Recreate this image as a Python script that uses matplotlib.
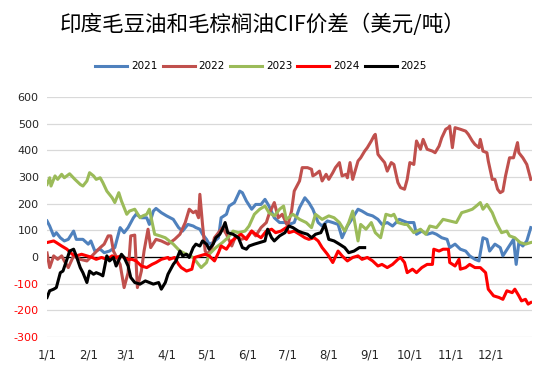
import matplotlib
matplotlib.use("Agg")
import matplotlib.pyplot as plt

# ---------------- data (day of year, USD/t) ----------------
d2021 = [0, 2, 5, 7, 10, 13, 16, 20, 22, 27, 31, 33, 36, 40, 43, 47, 51, 55, 58, 61, 65, 67, 71, 75, 77, 80, 82, 86,
         90, 95, 99, 102, 106, 110, 112, 115, 117, 120, 122, 125, 129, 131, 135, 137, 141, 145, 147, 150, 154, 157, 161,
         164, 167, 171, 175, 179, 182, 186, 190, 194, 197, 200, 204, 207, 211, 215, 219, 222, 226, 230, 234, 237, 241,
         245, 249, 252, 256, 260, 265, 271, 276, 278, 282, 286, 290, 293, 297, 301, 303, 307, 311, 315, 318, 322, 325,
         328, 331, 333, 337, 341, 343, 347, 351, 353, 355, 358, 361, 364]
v2021 = [135, 116, 79, 91, 72, 60, 66, 97, 66, 66, 48, 60, 22, 29, 16, 22, 35, 110, 91, 110, 147, 160, 147, 147, 122, 172,
         182, 166, 154, 141, 110, 97, 122, 116, 110, 104, 85, 66, 48, 54, 72, 147, 160, 191, 204, 247, 241, 210, 179, 197,
         197, 216, 191, 147, 129, 129, 122, 129, 185, 222, 204, 179, 129, 116, 135, 129, 122, 72, 116, 147, 179, 172, 160,
         154, 141, 122, 129, 116, 141, 129, 129, 85, 97, 85, 91, 85, 72, 66, 35, 48, 29, 22, 4, -9, -15, 72, 66, 22, 48,
         35, 4, 35, 66, -28, 54, 41, 60, 110]

d2022 = [0, 2, 5, 8, 11, 13, 16, 20, 25, 30, 35, 40, 43, 46, 48, 50, 55, 58, 61, 63, 66, 68, 71, 73, 76, 78, 82, 86, 91,
         96, 100, 104, 107, 110, 112, 114, 115, 117, 119, 121, 124, 126, 130, 132, 135, 139, 142, 146, 150, 154, 157, 161,
         165, 167, 171, 174, 177, 181, 184, 186, 190, 192, 196, 199, 200, 202, 205, 207, 210, 212, 215, 217, 220, 222,
         225, 226, 228, 230, 234, 236, 239, 241, 244, 246, 247, 249, 251, 254, 256, 259, 261, 264, 266, 269, 271, 273,
         276, 278, 281, 283, 286, 290, 292, 295, 297, 300, 302, 303, 305, 307, 311, 315, 317, 320, 322, 325, 326, 328,
         331, 332, 335, 337, 339, 341, 343, 345, 348, 351, 354, 355, 358, 361, 364]
v2022 = [15, -40, 4, -9, 4, -15, -40, 4, -9, -15, 10, 35, 48, 79, 79, 22, -28, -115, -59, 79, 82, -115, -53, 22, 104, 35,
         66, 60, 48, 66, 85, 129, 179, 166, 172, 147, 235, 122, 22, 10, 35, 72, 97, 110, 85, 41, 79, 66, 72, 97, 79, 110,
         129, 160, 204, 147, 160, 116, 172, 247, 285, 335, 335, 329, 304, 310, 322, 285, 310, 291, 316, 335, 354, 304,
         310, 297, 354, 291, 360, 372, 397, 410, 435, 454, 460, 385, 372, 354, 322, 354, 347, 279, 260, 254, 291, 354,
         347, 435, 404, 441, 404, 397, 391, 416, 447, 479, 485, 491, 410, 485, 479, 472, 460, 435, 422, 410, 441, 397,
         391, 360, 291, 291, 254, 241, 247, 304, 372, 372, 429, 391, 372, 347, 291]

d2023 = [0, 2, 3, 6, 8, 11, 13, 17, 21, 25, 27, 30, 32, 35, 37, 40, 42, 45, 49, 51, 54, 56, 60, 62, 66, 70, 72, 75, 77,
         81, 85, 89, 95, 100, 105, 110, 114, 116, 120, 122, 127, 132, 136, 140, 144, 149, 152, 156, 160, 164, 167, 171,
         175, 178, 180, 185, 190, 195, 199, 202, 207, 212, 216, 220, 224, 227, 230, 234, 236, 240, 244, 247, 251, 255,
         259, 261, 264, 269, 271, 276, 281, 285, 288, 293, 298, 303, 308, 312, 316, 320, 323, 326, 328, 331, 335, 338,
         342, 346, 348, 352, 356, 360, 364]
v2023 = [272, 297, 266, 304, 291, 310, 297, 312, 291, 272, 266, 285, 316, 304, 291, 297, 279, 247, 222, 204, 241, 210,
         160, 172, 179, 147, 154, 160, 179, 85, 79, 72, 48, 22, 10, -2, -28, -40, -21, 10, 35, 54, 72, 97, 91, 97, 116,
         160, 179, 191, 166, 154, 179, 191, 141, 160, 141, 129, 110, 160, 141, 154, 147, 129, 97, 129, 172, 60, 122, 104,
         129, 91, 72, 160, 154, 160, 129, 122, 122, 91, 104, 85, 116, 110, 141, 135, 129, 166, 172, 179, 191, 204, 179,
         197, 166, 129, 91, 97, 79, 72, 54, 48, 54]

d2024 = [0, 5, 7, 11, 15, 19, 22, 26, 30, 34, 37, 41, 45, 49, 52, 56, 60, 64, 67, 71, 75, 79, 82, 86, 91, 92, 96, 99,
         101, 105, 109, 111, 115, 119, 122, 126, 129, 131, 135, 139, 142, 146, 150, 154, 157, 161, 165, 169, 172, 176,
         180, 182, 186, 190, 194, 197, 201, 204, 207, 211, 215, 219, 222, 226, 230, 234, 237, 241, 245, 249, 252, 256,
         260, 264, 266, 269, 271, 275, 278, 282, 286, 290, 291, 295, 298, 302, 303, 307, 310, 311, 315, 318, 322, 326,
         330, 332, 336, 340, 343, 346, 350, 352, 355, 357, 360, 362, 364]
v2024 = [54, 60, 54, 41, 29, 10, 4, 10, 4, -2, -9, -2, -9, 4, -2, 4, -9, -9, -15, -34, -40, -28, -21, -9, -2, -9, -2,
         -28, -40, -53, -46, -2, 4, 10, 4, -15, 16, 41, 29, 60, 72, 85, 66, 97, 85, 72, 97, 104, 91, 97, 110, 91, 97, 85,
         72, 66, 72, 60, 35, 10, -21, 22, 4, -15, -2, 4, -9, -2, -15, -34, -28, -40, -28, -9, -2, -21, -59, -46, -59,
         -40, -28, -28, 29, 22, 29, 29, -21, -34, -9, -46, -40, -28, -40, -40, -59, -121, -146, -152, -159, -127, -134,
         -121, -146, -165, -159, -177, -171]

d2025 = [0, 2, 5, 7, 10, 12, 15, 17, 20, 22, 25, 27, 30, 32, 35, 37, 40, 42, 45, 47, 50, 52, 56, 58, 61, 63, 66, 70,
         74, 77, 80, 84, 86, 89, 91, 95, 97, 100, 102, 105, 107, 110, 112, 115, 117, 120, 122, 125, 127, 130, 132, 134,
         136, 140, 144, 147, 150, 152, 156, 160, 164, 166, 169, 171, 175, 179, 182, 185, 189, 192, 196, 199, 202, 206,
         209, 210, 212, 216, 220, 224, 227, 231, 235, 239]
v2025 = [-152, -127, -121, -115, -59, -53, -9, 22, 29, 4, -40, -59, -96, -53, -65, -59, -65, -71, 4, -15, -2, -34, 10,
         -2, -34, -77, -96, -102, -90, -96, -102, -96, -121, -96, -65, -28, -15, 22, 4, 10, -2, 35, 48, 41, 60, 48, 29,
         48, 72, 85, 104, 129, 91, 85, 72, 35, 29, 41, 48, 54, 60, 104, 72, 60, 79, 91, 116, 110, 97, 91, 85, 72, 85, 91,
         122, 104, 66, 60, 48, 35, 16, 22, 35, 35]

series = [("2021", d2021, v2021, "#4F81BD"),
          ("2022", d2022, v2022, "#C0504D"),
          ("2023", d2023, v2023, "#9BBB59"),
          ("2024", d2024, v2024, "#FF0000"),
          ("2025", d2025, v2025, "#000000")]

month_days = [0, 31, 59, 90, 120, 151, 181, 212, 243, 273, 304, 334]
month_labels = ["1/1", "2/1", "3/1", "4/1", "5/1", "6/1", "7/1", "8/1", "9/1", "10/1", "11/1", "12/1"]
yticks = [-300, -200, -100, 0, 100, 200, 300, 400, 500, 600]

title = "印度毛豆油和毛棕榈油CIF价差（美元/吨）"

# ---------------- figure ----------------
fig = plt.figure(figsize=(5.5, 3.76), dpi=100)
ax = fig.add_axes([0.0855, 0.104, 0.882, 0.638])

for name, d, v, c in series:
    ax.plot(d, v, color=c, lw=2.2, label=name, solid_joinstyle="round")

ax.axhline(0, color="black", lw=0.9, zorder=1)
ax.set_xlim(0, 365)
ax.set_ylim(-300, 600)
ax.set_yticks(yticks)
ax.set_xticks(month_days)
ax.set_xticklabels(month_labels, family="DejaVu Sans", fontsize=8.5, color="#262626")
ax.set_yticklabels([str(t) for t in yticks], family="DejaVu Sans", fontsize=8)
for lab, t in zip(ax.get_yticklabels(), yticks):
    lab.set_color("#FF0000" if t < 0 else "#262626")
ax.grid(axis="y", color="#D9D9D9", lw=0.9)
ax.set_axisbelow(True)
for s in ax.spines.values():
    s.set_visible(False)
ax.tick_params(length=0, pad=6)
ax.tick_params(axis="x", pad=8)

fig.text(0.478, 0.933, title, ha="center", va="center", fontsize=15.5,
         family=["Noto Sans CJK SC", "DejaVu Sans"])

fig.legend(loc="center", bbox_to_anchor=(0.475, 0.824), ncol=5, frameon=False,
           fontsize=7.5, handlelength=3.07, handletextpad=0.38, columnspacing=0.48)

fig.savefig("out.png", dpi=100)
